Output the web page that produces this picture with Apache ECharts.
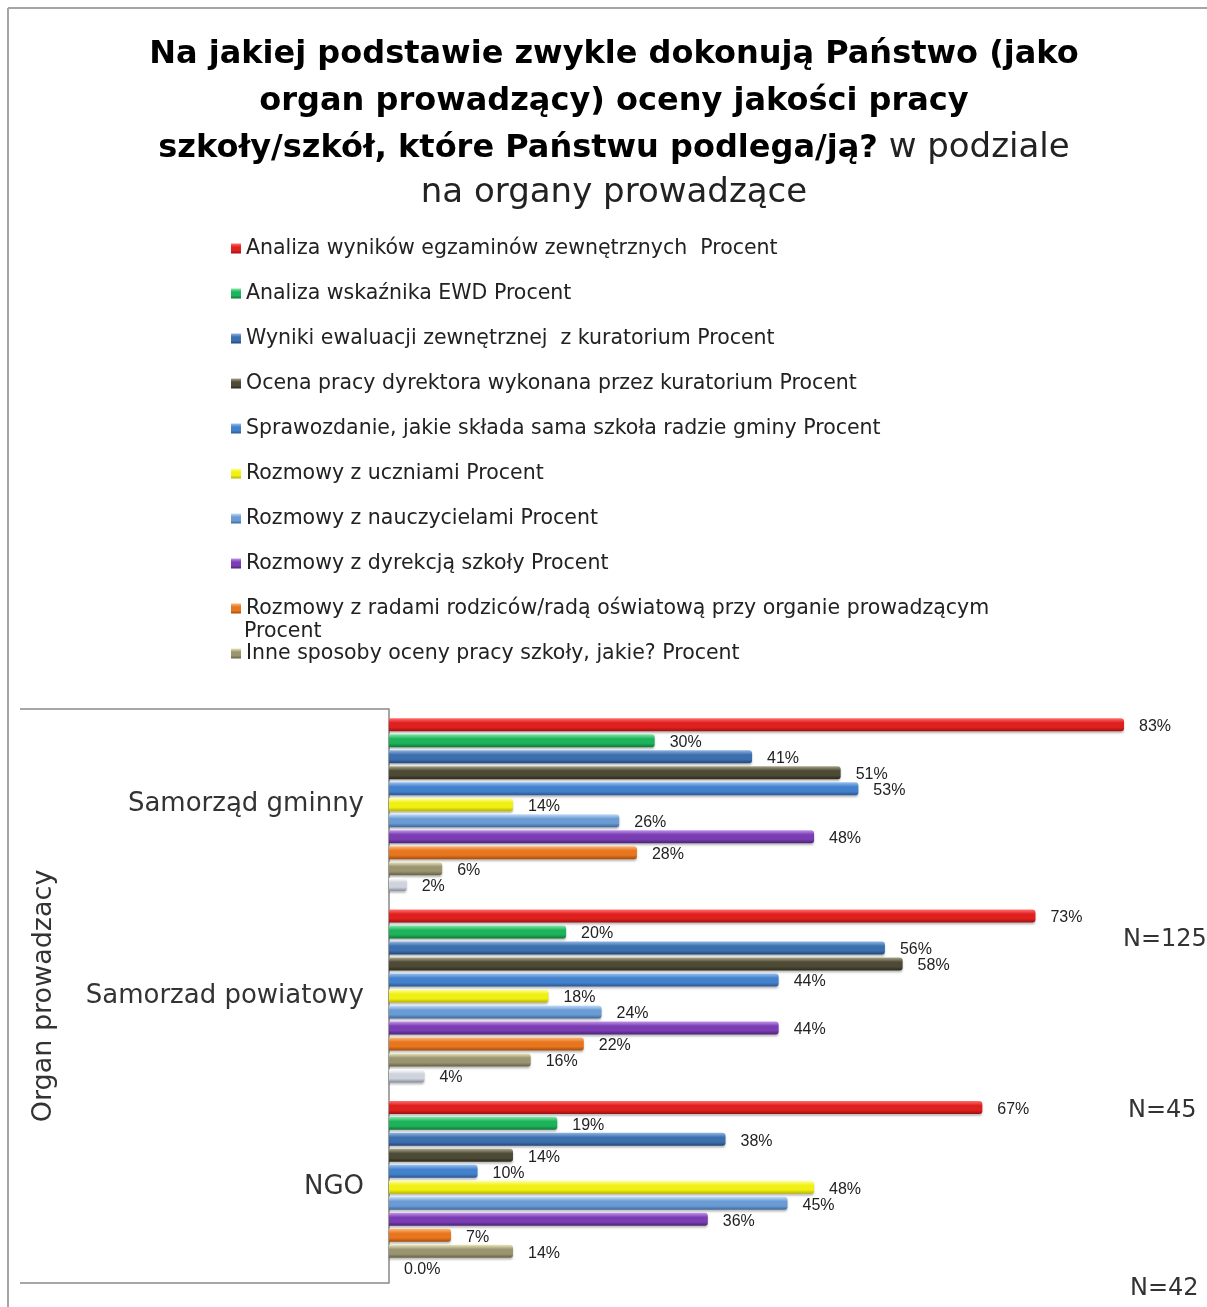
<!DOCTYPE html>
<html><head><meta charset="utf-8">
<script src="https://cdn.jsdelivr.net/npm/echarts@6/dist/echarts.min.js"></script>
<style>html,body{margin:0;padding:0;background:#fff}#c{width:1207px;height:1307px}</style>
</head><body><div id="c"></div>
<script>
// ---- data ----
const categories = ['Samorząd gminny', 'Samorzad powiatowy', 'NGO'];
const seriesNames = [
  'Analiza wyników egzaminów zewnętrznych  Procent',
  'Analiza wskaźnika EWD Procent',
  'Wyniki ewaluacji zewnętrznej  z kuratorium Procent',
  'Ocena pracy dyrektora wykonana przez kuratorium Procent',
  'Sprawozdanie, jakie składa sama szkoła radzie gminy Procent',
  'Rozmowy z uczniami Procent',
  'Rozmowy z nauczycielami Procent',
  'Rozmowy z dyrekcją szkoły Procent',
  'Rozmowy z radami rodziców/radą oświatową przy organie prowadzącym Procent',
  'Inne sposoby oceny pracy szkoły, jakie? Procent',
  'Brak odpowiedzi Procent'
];
const analizaEgzaminow   = [83, 73, 67];
const analizaEWD         = [30, 20, 19];
const ewaluacjaKurator   = [41, 56, 38];
const ocenaDyrektora     = [51, 58, 14];
const sprawozdanie       = [53, 44, 10];
const rozmowyUczniowie   = [14, 18, 48];
const rozmowyNauczyciele = [26, 24, 45];
const rozmowyDyrekcja    = [48, 44, 36];
const rozmowyRodzice     = [28, 22, 7];
const inneSposoby        = [6, 16, 14];
const brakOdpowiedzi     = [2, 4, 0];
const seriesValues = [analizaEgzaminow, analizaEWD, ewaluacjaKurator, ocenaDyrektora, sprawozdanie,
  rozmowyUczniowie, rozmowyNauczyciele, rozmowyDyrekcja, rozmowyRodzice, inneSposoby, brakOdpowiedzi];
const sampleSizes = ['N=125', 'N=45', 'N=42'];
const axisTitle = 'Organ prowadzacy';

// ---- styles ----
const palette = [
  ['#ff7070', '#e0201f', '#9c1010'],
  ['#86e6aa', '#1db35b', '#0f7638'],
  ['#8fb4e2', '#3c6fae', '#22467a'],
  ['#aaa68a', '#4d4a36', '#2b291c'],
  ['#98c2f0', '#4381cc', '#285893'],
  ['#ffffa8', '#f0f012', '#b4b400'],
  ['#c4ddf8', '#6a9bd4', '#3d679b'],
  ['#c195ea', '#7b3db3', '#4c2275'],
  ['#fbb87a', '#e8761e', '#a44d0b'],
  ['#ebe5bb', '#9a9470', '#676245'],
  ['#ffffff', '#cfd3dc', '#868c9c']
];
const FONT = 'DejaVu Sans';

const chart = echarts.init(document.getElementById('c'), null, {renderer: 'canvas'});

const series = seriesValues.map((vals, i) => ({
  name: seriesNames[i],
  type: 'bar',
  data: vals,
  barWidth: 13,
  barGap: '23%',
  itemStyle: {
    color: new echarts.graphic.LinearGradient(0, 0, 0, 1, [
      {offset: 0, color: palette[i][0]},
      {offset: 0.35, color: palette[i][1]},
      {offset: 0.7, color: palette[i][1]},
      {offset: 1, color: palette[i][2]}
    ]),
    borderRadius: [0, 3, 3, 0],
    shadowColor: 'rgba(0,0,0,0.25)',
    shadowBlur: 2,
    shadowOffsetY: 2
  },
  label: {
    show: true,
    position: 'right',
    distance: 15,
    offset: [0, 2],
    fontFamily: 'Liberation Sans',
    fontSize: 16,
    color: '#222',
    formatter: p => (p.value === 0 ? '0.0%' : p.value + '%')
  }
}));

const option = {
  backgroundColor: '#fff',
  animation: false,
  title: {
    left: 609,
    top: 26,
    textAlign: 'center',
    text: '{b|Na jakiej podstawie zwykle dokonują Państwo (jako}\n{b|organ prowadzący) oceny jakości pracy}\n{b|szkoły/szkół, które Państwu podlega/ją?}{n| w podziale}\n{n|na organy prowadzące}',
    textStyle: {
      rich: {
        b: {fontFamily: 'DejaVu Sans', fontWeight: 'bold', fontSize: 32, color: '#000', lineHeight: 47, align: 'center'},
        n: {fontFamily: 'DejaVu Sans', fontWeight: 'normal', fontSize: 34, color: '#222', lineHeight: 43, align: 'center'}
      }
    }
  },
  legend: {
    orient: 'vertical',
    left: 226,
    top: 233,
    itemWidth: 10,
    itemHeight: 10,
    itemGap: 24,
    icon: 'rect',
    selectedMode: false,
    data: seriesNames.slice(0, 10),
    formatter: name => (name === seriesNames[8] ? name.replace(/ Procent$/, '') : name),
    textStyle: {fontFamily: FONT, fontSize: 20.5, color: '#222', lineHeight: 20}
  },
  grid: {left: 389, top: 709, right: 21, bottom: 24, containLabel: false},
  xAxis: {
    type: 'value', min: 0, max: 90, show: false
  },
  yAxis: {
    type: 'category',
    data: categories,
    inverse: true,
    axisLine: {show: true, lineStyle: {color: '#888', width: 1.5}},
    axisTick: {show: false},
    axisLabel: {fontFamily: FONT, fontSize: 26, color: '#333', margin: 25},
    name: axisTitle,
    nameLocation: 'middle',
    nameGap: 332,
    nameTextStyle: {fontFamily: FONT, fontSize: 27, color: '#333'}
  },
  series: series,
  graphic: [
    {type: 'line', shape: {x1: 8, y1: 8, x2: 1207, y2: 8}, style: {stroke: '#a5a5a5', lineWidth: 2}},
    {type: 'line', shape: {x1: 8, y1: 8, x2: 8, y2: 1307}, style: {stroke: '#a5a5a5', lineWidth: 2}},
    {type: 'line', shape: {x1: 20, y1: 709, x2: 389, y2: 709}, style: {stroke: '#888', lineWidth: 1.5}},
    {type: 'line', shape: {x1: 20, y1: 1283, x2: 389, y2: 1283}, style: {stroke: '#888', lineWidth: 1.5}},
    {type: 'text', left: 244, top: 621, style: {text: 'Procent', font: '20.5px "DejaVu Sans"', fill: '#222'}},
    {type: 'text', left: 1123, top: 928, style: {text: sampleSizes[0], font: '24px "DejaVu Sans"', fill: '#333'}},
    {type: 'text', left: 1128, top: 1099, style: {text: sampleSizes[1], font: '24px "DejaVu Sans"', fill: '#333'}},
    {type: 'text', left: 1130, top: 1277, style: {text: sampleSizes[2], font: '24px "DejaVu Sans"', fill: '#333'}}
  ]
};
chart.setOption(option);
</script>
</body></html>
